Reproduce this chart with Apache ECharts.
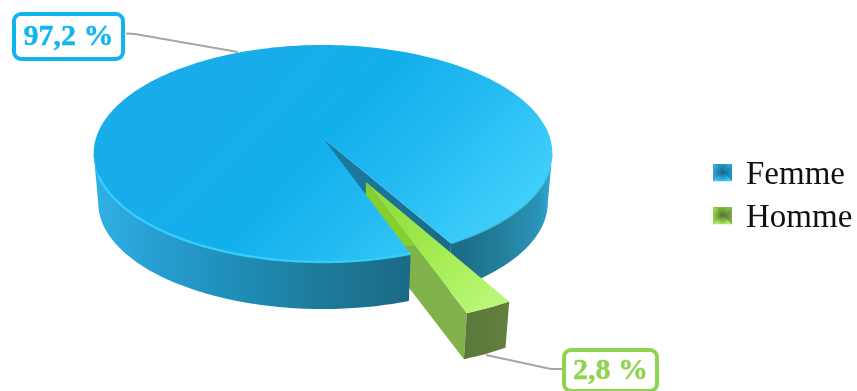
<!DOCTYPE html>
<html>
<head>
<meta charset="utf-8">
<style>html,body{margin:0;padding:0;background:#fff}#c{width:857px;height:391px}</style>
<script src="https://cdn.jsdelivr.net/npm/echarts@6/dist/echarts.min.js"></script>
</head>
<body>
<div id="c"></div>
<script>
// Shares of women and men
const categories = ['Femme', 'Homme'];
const shares = [97.2, 2.8];
const total = shares.reduce((a, b) => a + b, 0);

// Disc projection: a unit circle seen in perspective, with a slightly smaller lower face
const disc = { x: 323, y: 138, a: 227, b: 106.3, k: 1 / 7, lowerY: 187.5, lowerScale: 0.98 };
const firstSliceAngle = 29.6;   // degrees from the front of the disc, turning right
const explode = 0.43;           // pull-out distance of the small slice
const silhouette = Math.acos(disc.k) * 180 / Math.PI;   // where the rim reaches its widest point

const rad = d => d * Math.PI / 180;
function project(X, Z, lower) {
  const w = 1 - disc.k * Z;
  const px = disc.a * X / w, py = disc.b * Z / w;
  return lower
    ? [disc.x + disc.lowerScale * px, disc.lowerY + disc.lowerScale * py]
    : [disc.x + px, disc.y + py];
}
const rimPoint = (deg, off, lower) =>
  project(Math.sin(rad(deg)) + off[0], Math.cos(rad(deg)) + off[1], lower);
function arc(from, to, off, lower) {
  const pts = [], n = Math.max(2, Math.ceil(Math.abs(to - from)));
  for (let i = 0; i <= n; i++) pts.push(rimPoint(from + (to - from) * i / n, off, lower));
  return pts;
}
const grad = (x0, y0, x1, y1, stops) => new echarts.graphic.LinearGradient(
  x0, y0, x1, y1, stops.map(c => ({ offset: c[0], color: c[1] })), true);
const poly = (points, fill, z2) => ({ type: 'polygon', z2, shape: { points }, style: { fill } });
const line = (points, stroke, width, z2, extra) => ({
  type: 'polyline', z2, shape: { points },
  style: Object.assign({ stroke, lineWidth: width, fill: 'none' }, extra || {})
});

function valueLabel(v, box, color, leader, z2) {
  return [
    line(leader, '#a6a6a6', 1.8, z2),
    { type: 'rect', z2: z2 + 1, shape: { x: box[0], y: box[1], width: box[2], height: box[3], r: 7 },
      style: { fill: '#fff', stroke: color, lineWidth: 4 } },
    { type: 'text', z2: z2 + 2, style: {
        x: box[0] + box[2] / 2, y: box[1] + box[3] / 2 + 1,
        text: String(v).replace('.', ',') + ' %', fill: color, stroke: color, lineWidth: 0.4,
        font: 'bold 30px "Liberation Serif", serif', align: 'center', verticalAlign: 'middle' } }
  ];
}

const sideFill = () => grad(93, 0, 552, 0, [
  [0, '#2fb2e6'], [0.13, '#279fd2'], [0.3, '#1f8fba'], [0.48, '#1d7c9c'], [0.68, '#1b6b87'],
  [0.8, '#1c6d89'], [0.9, '#25829f'], [0.97, '#2a93b8'], [1, '#30aad6']
]);

// Large slice: inner wall, outer side in two parts, then the top face
function renderLarge(params, api) {
  const sweep = api.value(0) / total * 360;
  const start = firstSliceAngle, end = start + sweep, zero = [0, 0];
  const centreTop = project(0, 0, false), centreLow = project(0, 0, true);
  const rightTop = arc(start, silhouette, zero, false), rightLow = arc(start, silhouette, zero, true);
  const leftTop = arc(end - 360, -silhouette, zero, false), leftLow = arc(end - 360, -silhouette, zero, true);
  const wall = [centreTop, rimPoint(start, zero, false), rimPoint(start, zero, true), centreLow];
  const top = [centreTop].concat(arc(start, end, zero, false));
  return { type: 'group', children: [
    poly(wall, grad(323, 0, 451, 0, [[0, '#1a7da3'], [1, '#1b6a87']]), 1),
    poly(rightTop.concat(rightLow.slice().reverse()), sideFill(), 2),
    poly(leftTop.concat(leftLow.slice().reverse()), sideFill(), 4),
    poly(top, grad(270, 70, 470, 262, [
      [0, '#18adea'], [0.32, '#12afed'], [0.62, '#25bbf2'], [1, '#3fcffb']
    ]), 5),
    line(arc(end - 360, -70, zero, false), '#37cffc', 2.4, 6, { opacity: 0.9 }),
    line(arc(start, 75, zero, false), '#3fb9dc', 2, 6, { opacity: 0.55 }),
    ...valueLabel(api.value(0), [14, 14, 109, 45], '#12b4f0',
      [[238, 52], [135, 34], [126, 33.5]], 20)
  ] };
}

// Small slice, pulled away from the disc along its bisector
function renderSmall(params, api) {
  const sweep = api.value(0) / total * 360;
  const a = firstSliceAngle - sweep, b = firstSliceAngle, mid = (a + b) / 2;
  const off = [explode * Math.sin(rad(mid)), explode * Math.cos(rad(mid))];
  const apexTop = project(off[0], off[1], false), apexLow = project(off[0], off[1], true);
  const leftTop = rimPoint(a, off, false), leftLow = rimPoint(a, off, true);
  const rimTop = arc(a, b, off, false), rimLow = arc(a, b, off, true);
  return { type: 'group', children: [
    poly([apexTop, leftTop, leftLow, apexLow], grad(0, 240, 0, 252, [
      [0, '#86cf2e'], [0.5, '#86cf2e'], [0.5, '#80b14b'], [1, '#80b14b']
    ]), 3),
    poly(rimTop.concat(rimLow.slice().reverse()), grad(465, 0, 510, 0, [[0, '#59783a'], [1, '#64803f']]), 7),
    poly([apexTop].concat(rimTop), grad(370, 185, 490, 305, [
      [0, '#8cd935'], [0.55, '#a3ec50'], [1, '#b9f777']
    ]), 8),
    ...valueLabel(api.value(0), [564, 350, 93, 41], '#8fd450',
      [[486, 355], [551, 369], [563, 369]], 20)
  ] };
}

// Bevelled square used as the legend marker: four shaded faces sloping to a dark centre
function bevelIcon(c) {
  const svg = `<svg xmlns="http://www.w3.org/2000/svg" width="19" height="18" viewBox="0 0 19 18">`
    + `<defs><radialGradient id="g"><stop offset="0" stop-color="${c[4]}" stop-opacity="0.95"/>`
    + `<stop offset="1" stop-color="${c[4]}" stop-opacity="0"/></radialGradient></defs>`
    + `<polygon points="0,0 19,0 9.5,9" fill="${c[0]}"/>`
    + `<polygon points="19,0 19,18 9.5,9" fill="${c[1]}"/>`
    + `<polygon points="19,18 0,18 9.5,9" fill="${c[2]}"/>`
    + `<polygon points="0,18 0,0 9.5,9" fill="${c[3]}"/>`
    + `<rect width="19" height="18" fill="url(#g)"/></svg>`;
  return 'image://data:image/svg+xml;charset=utf-8,' + encodeURIComponent(svg);
}
const femmeIcon = ['#259fd2', '#1a9ad0', '#3cc6f2', '#2ea6da', '#145f82'];
const hommeIcon = ['#7fc23a', '#7ea84a', '#a8ee5e', '#93d543', '#4f6f30'];

const chart = echarts.init(document.getElementById('c'), null, { renderer: 'canvas' });
chart.setOption({
  backgroundColor: '#fff',
  animation: false,
  legend: {
    orient: 'vertical', left: 713, top: 153, padding: 0,
    itemWidth: 19, itemHeight: 18, itemGap: 4,
    formatter: '{t|{name}}',
    textStyle: { rich: { t: {
      fontFamily: '"Liberation Serif", serif', fontSize: 33, color: '#111',
      lineHeight: 33, padding: [6, 0, 0, 9]
    } } },
    data: [
      { name: categories[0], icon: bevelIcon(femmeIcon) },
      { name: categories[1], icon: bevelIcon(hommeIcon) }
    ]
  },
  series: [
    { type: 'custom', name: categories[0], coordinateSystem: 'none', data: [[shares[0]]],
      itemStyle: { color: '#12afed' }, renderItem: renderLarge },
    { type: 'custom', name: categories[1], coordinateSystem: 'none', data: [[shares[1]]],
      itemStyle: { color: '#9be84a' }, renderItem: renderSmall }
  ]
});
</script>
</body>
</html>
